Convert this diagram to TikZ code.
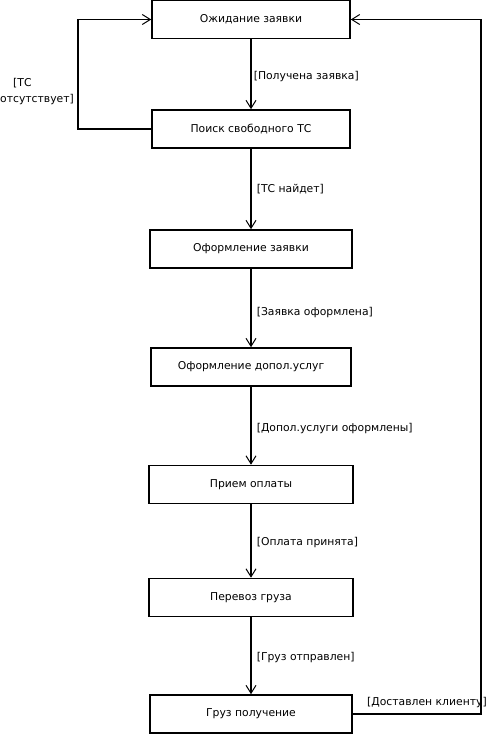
\documentclass[tikz,border=0pt]{standalone}
\usepackage{fontspec}
\setmainfont{DejaVu Sans}
\usetikzlibrary{arrows.meta}
\begin{document}
\begin{tikzpicture}[x=1pt,y=-1pt,
  state/.style={draw,line width=1.6pt,minimum width=200pt,minimum height=38pt,inner sep=0pt,font=\fontsize{10.8}{13}\selectfont},
  flow/.style={line width=1.6pt,-{Straight Barb[length=8pt,width=10pt,line width=1pt]}},
  guard/.style={font=\fontsize{10.8}{16}\selectfont,inner sep=0pt}]
\useasboundingbox (0,0) rectangle (491,736);
\node[state,minimum width=198pt] (s1) at (251,19.5) {Ожидание заявки};
\node[state,minimum width=198pt] (s2) at (251,129) {Поиск свободного ТС};
\node[state,minimum width=202pt] (s3) at (251,249) {Оформление заявки};
\node[state,minimum width=200pt] (s4) at (251,367) {Оформление допол.услуг};
\node[state,minimum width=204pt] (s5) at (251,484.5) {Прием оплаты};
\node[state,minimum width=204pt] (s6) at (251,597.5) {Перевоз груза};
\node[state,minimum width=202pt] (s7) at (251,714) {Груз получение};
\coordinate (l1) at (78,129);
\coordinate (l2) at (78,19.5);
\coordinate (r1) at (481,714);
\coordinate (r2) at (481,19.5);
\draw[flow] (s1) -- (s2) node[guard,pos=0.53,right=2pt] {[Получена заявка]};
\draw[flow] (s2) -- (s3) node[guard,pos=0.5,right=5pt] {[ТС найдет]};
\draw[flow] (s3) -- (s4) node[guard,pos=0.56,right=5pt] {[Заявка оформлена]};
\draw[flow] (s4) -- (s5) node[guard,pos=0.53,right=5pt] {[Допол.услуги оформлены]};
\draw[flow] (s5) -- (s6) node[guard,pos=0.52,right=5pt] {[Оплата принята]};
\draw[flow] (s6) -- (s7) node[guard,pos=0.52,right=5pt] {[Груз отправлен]};
\draw[flow] (s2.west) -- (l1) -- (l2) -- (s1.west);
\draw[flow] (s7.east) -- (r1) -- (r2) -- (s1.east);
\node[guard,align=left,anchor=west] (g0) at (0,92) {\hspace{13pt}[ТС\\отсутствует]};
\node[guard,anchor=west] (g7) at (367,703) {[Доставлен клиенту]};
\end{tikzpicture}
\end{document}
